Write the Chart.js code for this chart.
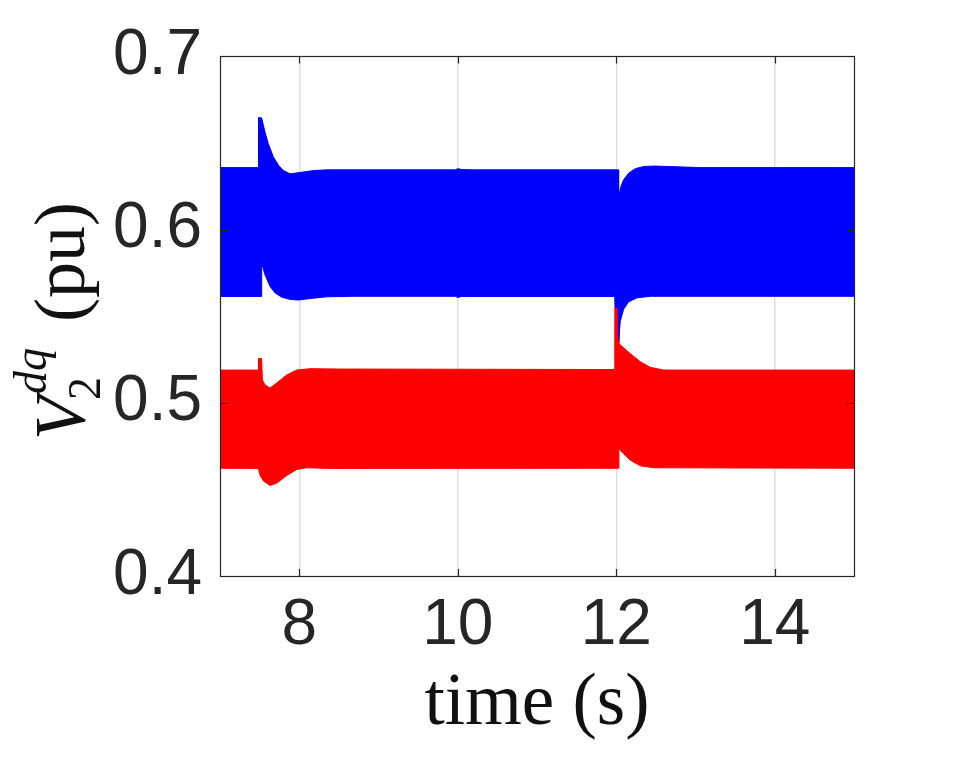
<!DOCTYPE html>
<html>
<head>
<meta charset="utf-8">
<script src="https://cdn.jsdelivr.net/npm/chart.js@4.4.1/dist/chart.umd.min.js"></script>
<style>
  html, body { margin: 0; padding: 0; background: #ffffff; }
  #wrap { width: 955px; height: 758px; }
</style>
</head>
<body>
<div id="wrap"><canvas id="grafico" width="955" height="758"></canvas></div>
<script>
// ticks
const xTicks = [8, 10, 12, 14];
const yTicks = [0.4, 0.5, 0.6, 0.7];

// envolvente superior azul
const azulSupT = [7.0, 7.484, 7.486, 7.526, 7.568, 7.610, 7.673, 7.736, 7.80, 7.884, 8.01, 8.18, 8.35, 9.97, 10.0, 10.05, 10.2, 12.025, 12.030, 12.060, 12.093, 12.156, 12.241, 12.346, 12.472, 12.683, 13.06, 15.0];
const azulSupV = [0.6358, 0.6358, 0.6648, 0.6644, 0.6563, 0.6496, 0.6420, 0.6373, 0.6341, 0.6322, 0.6330, 0.6341, 0.6345, 0.6345, 0.6352, 0.6347, 0.6345, 0.6345, 0.6193, 0.6250, 0.6288, 0.6326, 0.6352, 0.6364, 0.6367, 0.6364, 0.6358, 0.6358];

// envolvente inferior azul
const azulInfT = [7.0, 7.524, 7.526, 7.568, 7.631, 7.694, 7.779, 7.884, 7.989, 8.136, 8.347, 8.68, 9.97, 10.0, 10.05, 11.98, 11.985, 12.025, 12.030, 12.051, 12.093, 12.156, 12.262, 12.43, 15.0];
const azulInfV = [0.5614, 0.5614, 0.5805, 0.5739, 0.5672, 0.5635, 0.5610, 0.5597, 0.5593, 0.5602, 0.5612, 0.5615, 0.5615, 0.5608, 0.5614, 0.5614, 0.5550, 0.5550, 0.5360, 0.5473, 0.5540, 0.5583, 0.5606, 0.5615, 0.5615];

// envolvente superior roja
const rojoSupT = [7.0, 7.484, 7.486, 7.525, 7.535, 7.568, 7.631, 7.715, 7.842, 7.968, 8.137, 8.474, 11.98, 11.982, 12.030, 12.034, 12.093, 12.177, 12.304, 12.43, 12.598, 15.0];
const rojoSupV = [0.5189, 0.5189, 0.5256, 0.5256, 0.5132, 0.5104, 0.5085, 0.5114, 0.5161, 0.5189, 0.5197, 0.5195, 0.5192, 0.5550, 0.5550, 0.5341, 0.5318, 0.5284, 0.5237, 0.5205, 0.5189, 0.5189];

// envolvente inferior roja
const rojoInfT = [7.0, 7.484, 7.505, 7.547, 7.631, 7.715, 7.842, 7.968, 8.095, 8.4, 12.030, 12.034, 12.093, 12.177, 12.304, 12.472, 15.0];
const rojoInfV = [0.4622, 0.4621, 0.4583, 0.4549, 0.4523, 0.4536, 0.4580, 0.4615, 0.4625, 0.4621, 0.4622, 0.4735, 0.4706, 0.4669, 0.4636, 0.4625, 0.4622];

function puntos(ts, vs) {
    return ts.map((t, i) => ({ x: t, y: vs[i] }));
}

function serie(etiqueta, ts, vs, color, relleno) {
    return {
        label: etiqueta,
        data: puntos(ts, vs),
        borderColor: color,
        backgroundColor: color,
        borderWidth: 1,
        pointRadius: 0,
        tension: 0,
        fill: relleno
    };
}

const COLOR_EJE = '#262626';

// caja, marcas hacia adentro y titulos
const pluginEjes = {
    id: 'ejes',
    afterDraw(chart) {
        const ctx = chart.ctx;
        const a = chart.chartArea;
        const sx = chart.scales.x;
        const sy = chart.scales.y;
        ctx.save();
        ctx.strokeStyle = COLOR_EJE;
        ctx.lineWidth = 1.2;
        ctx.beginPath();
        xTicks.forEach(t => {
            const px = Math.round(sx.getPixelForValue(t)) + 0.5;
            ctx.moveTo(px, a.bottom); ctx.lineTo(px, a.bottom - 7);
            ctx.moveTo(px, a.top); ctx.lineTo(px, a.top + 7);
        });
        yTicks.forEach(v => {
            const py = Math.round(sy.getPixelForValue(v)) + 0.5;
            ctx.moveTo(a.left, py); ctx.lineTo(a.left + 7, py);
            ctx.moveTo(a.right, py); ctx.lineTo(a.right - 7, py);
        });
        ctx.stroke();
        ctx.strokeRect(Math.round(a.left) + 0.5, Math.round(a.top) + 0.5,
            Math.round(a.right - a.left), Math.round(a.bottom - a.top));

        // titulo eje x
        ctx.fillStyle = '#111111';
        ctx.font = '73px "Liberation Serif"';
        ctx.textAlign = 'center';
        ctx.textBaseline = 'alphabetic';
        ctx.fillText('time (s)', (a.left + a.right) / 2, 724);

        // titulo eje y: V_2^{dq} (pu)
        ctx.translate(84, 321);
        ctx.rotate(-Math.PI / 2);
        ctx.textAlign = 'left';
        const fGrande = 'italic 72px "Liberation Serif"';
        const fChica = '46px "Liberation Serif"';
        const fChicaIt = 'italic 46px "Liberation Serif"';
        const fNormal = '72px "Liberation Serif"';
        ctx.font = fGrande; const wV = ctx.measureText('V').width;
        ctx.font = fChica; const w2 = ctx.measureText('2').width;
        ctx.font = fChicaIt; const wdq = ctx.measureText('dq').width;
        ctx.font = fNormal; const wpu = ctx.measureText('(pu)').width;
        const hueco = 26;
        const total = wV - 4 + Math.max(w2, wdq + 6) + hueco + wpu;
        let x = -total / 2;
        ctx.font = fGrande; ctx.fillText('V', x, 0);
        x += wV - 4;
        ctx.font = fChica; ctx.fillText('2', x, 16);
        ctx.font = fChicaIt; ctx.fillText('dq', x + 6, -38);
        x += Math.max(w2, wdq + 6) + hueco;
        ctx.font = fNormal; ctx.fillText('(pu)', x, 0);
        ctx.restore();
    }
};

const fuenteTicks = { family: '"Liberation Sans", Arial, Helvetica, sans-serif', size: 64 };

new Chart(document.getElementById('grafico'), {
    type: 'line',
    data: {
        datasets: [
            serie('azul sup', azulSupT, azulSupV, '#0000ff', false),
            serie('azul inf', azulInfT, azulInfV, '#0000ff', '-1'),
            serie('rojo sup', rojoSupT, rojoSupV, '#ff0000', false),
            serie('rojo inf', rojoInfT, rojoInfV, '#ff0000', '-1')
        ]
    },
    options: {
        responsive: false,
        animation: false,
        layout: { padding: { top: 48, right: 101, left: 0, bottom: 0 } },
        plugins: { legend: { display: false }, tooltip: { enabled: false } },
        scales: {
            x: {
                type: 'linear',
                min: 7,
                max: 15,
                afterBuildTicks: scale => { scale.ticks = xTicks.map(v => ({ value: v })); },
                afterFit: scale => { scale.height = 182; },
                grid: { color: '#dedede', lineWidth: 1.5, drawTicks: false },
                border: { color: COLOR_EJE, width: 1 },
                ticks: { color: '#262626', font: fuenteTicks, padding: 12, maxRotation: 0, callback: v => String(v) }
            },
            y: {
                type: 'linear',
                min: 0.4,
                max: 0.7,
                afterBuildTicks: scale => { scale.ticks = yTicks.map(v => ({ value: v })); },
                afterFit: scale => { scale.width = 220; },
                grid: { display: false, drawTicks: false },
                border: { color: COLOR_EJE, width: 1 },
                ticks: { color: '#262626', font: fuenteTicks, padding: 18, callback: v => Number(v).toFixed(1) }
            }
        }
    },
    plugins: [pluginEjes]
});
</script>
</body>
</html>
